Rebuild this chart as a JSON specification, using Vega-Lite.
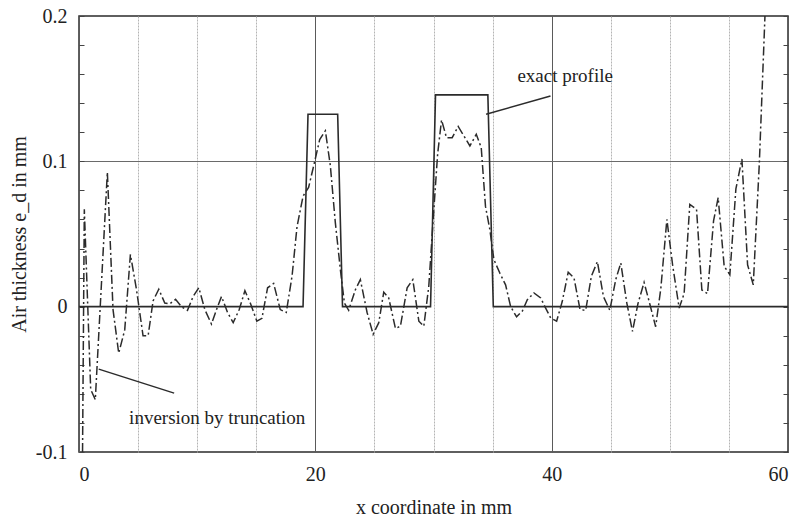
{
  "$schema": "https://vega.github.io/schema/vega-lite/v6.json",
  "width": 709,
  "height": 436,
  "autosize": {"type": "none"},
  "padding": {"left": 79, "top": 16, "right": 22, "bottom": 65},
  "background": "white",
  "config": {
    "view": {"stroke": "#2b2b2b", "strokeWidth": 1.5},
    "axis": {
      "labelFont": "Liberation Serif",
      "titleFont": "Liberation Serif",
      "labelFontSize": 20,
      "titleFontSize": 20,
      "labelColor": "#222222",
      "titleColor": "#222222",
      "titleFontWeight": "normal",
      "domain": false
    },
    "text": {"font": "Liberation Serif", "fontSize": 19, "color": "#222222"}
  },
  "datasets": {
    "profile": [
      {"x": 0, "e": 0},
      {"x": 18.96, "e": 0},
      {"x": 19.38, "e": 0.1324},
      {"x": 21.89, "e": 0.1324},
      {"x": 22.3, "e": 0},
      {"x": 29.75, "e": 0},
      {"x": 30.17, "e": 0.1457},
      {"x": 34.6, "e": 0.1457},
      {"x": 35.06, "e": 0},
      {"x": 60, "e": 0}
    ],
    "inversion": [
      {"x": 0.3, "e": -0.1},
      {"x": 0.45, "e": 0.067},
      {"x": 0.99, "e": -0.057},
      {"x": 1.38, "e": -0.064},
      {"x": 2.4, "e": 0.0926},
      {"x": 2.88, "e": -0.002},
      {"x": 3.36, "e": -0.032},
      {"x": 3.87, "e": -0.016},
      {"x": 4.35, "e": 0.036},
      {"x": 4.86, "e": 0.012},
      {"x": 5.42, "e": -0.02},
      {"x": 5.85, "e": -0.02},
      {"x": 6.27, "e": 0.004},
      {"x": 6.75, "e": 0.012},
      {"x": 7.26, "e": 0.0025},
      {"x": 7.68, "e": 0.002},
      {"x": 8.17, "e": 0.005},
      {"x": 8.67, "e": 0.0},
      {"x": 9.18, "e": -0.0025},
      {"x": 9.66, "e": 0.007},
      {"x": 10.14, "e": 0.013},
      {"x": 10.65, "e": -0.002},
      {"x": 11.21, "e": -0.012},
      {"x": 11.64, "e": -0.002},
      {"x": 12.06, "e": 0.007},
      {"x": 12.57, "e": -0.004},
      {"x": 13.05, "e": -0.011},
      {"x": 13.56, "e": -0.002},
      {"x": 14.04, "e": 0.011},
      {"x": 14.52, "e": 0.002},
      {"x": 15.05, "e": -0.01},
      {"x": 15.48, "e": -0.008},
      {"x": 15.96, "e": 0.013},
      {"x": 16.47, "e": 0.016},
      {"x": 17.03, "e": -0.002},
      {"x": 17.54, "e": -0.004},
      {"x": 18.03, "e": 0.021},
      {"x": 18.45, "e": 0.055},
      {"x": 18.96, "e": 0.076},
      {"x": 19.43, "e": 0.082},
      {"x": 19.92, "e": 0.099},
      {"x": 20.37, "e": 0.115},
      {"x": 20.85, "e": 0.121},
      {"x": 21.27, "e": 0.097},
      {"x": 21.69, "e": 0.058},
      {"x": 22.12, "e": 0.0255},
      {"x": 22.46, "e": 0.0025},
      {"x": 22.82, "e": -0.0025},
      {"x": 23.39, "e": 0.0117},
      {"x": 23.81, "e": 0.0186},
      {"x": 24.38, "e": -0.004},
      {"x": 24.89, "e": -0.019},
      {"x": 25.37, "e": -0.011},
      {"x": 25.79, "e": 0.01},
      {"x": 26.21, "e": 0.006},
      {"x": 26.78, "e": -0.015},
      {"x": 27.2, "e": -0.0135},
      {"x": 27.77, "e": 0.013},
      {"x": 28.25, "e": 0.0186},
      {"x": 28.76, "e": -0.01},
      {"x": 29.18, "e": -0.0135},
      {"x": 29.6, "e": 0.014},
      {"x": 30.03, "e": 0.067},
      {"x": 30.35, "e": 0.105},
      {"x": 30.68, "e": 0.1285},
      {"x": 31.1, "e": 0.1163},
      {"x": 31.58, "e": 0.1163},
      {"x": 32.09, "e": 0.124},
      {"x": 32.57, "e": 0.1175},
      {"x": 33.08, "e": 0.1106},
      {"x": 33.62, "e": 0.1186},
      {"x": 34.04, "e": 0.1094},
      {"x": 34.4, "e": 0.069},
      {"x": 34.77, "e": 0.053},
      {"x": 35.11, "e": 0.0324},
      {"x": 35.62, "e": 0.023},
      {"x": 36.1, "e": 0.015},
      {"x": 36.53, "e": 0.0},
      {"x": 37.03, "e": -0.007},
      {"x": 37.52, "e": -0.003},
      {"x": 37.94, "e": 0.0048},
      {"x": 38.5, "e": 0.0094},
      {"x": 39.07, "e": 0.006},
      {"x": 39.49, "e": -0.001},
      {"x": 39.92, "e": -0.0078},
      {"x": 40.42, "e": -0.01},
      {"x": 40.9, "e": 0.0037},
      {"x": 41.4, "e": 0.0237},
      {"x": 41.89, "e": 0.0198},
      {"x": 42.4, "e": -0.002},
      {"x": 42.88, "e": -0.0025},
      {"x": 43.36, "e": 0.021},
      {"x": 43.87, "e": 0.031},
      {"x": 44.38, "e": 0.007},
      {"x": 44.92, "e": -0.0025},
      {"x": 45.42, "e": 0.0186},
      {"x": 45.85, "e": 0.03},
      {"x": 46.36, "e": 0.0025},
      {"x": 46.84, "e": -0.017},
      {"x": 47.3, "e": 0.002},
      {"x": 47.82, "e": 0.0167},
      {"x": 48.3, "e": 0.002},
      {"x": 48.8, "e": -0.0138},
      {"x": 49.24, "e": 0.0127},
      {"x": 49.75, "e": 0.06},
      {"x": 50.23, "e": 0.029},
      {"x": 50.79, "e": -0.001},
      {"x": 51.21, "e": 0.009},
      {"x": 51.69, "e": 0.0704},
      {"x": 52.26, "e": 0.067},
      {"x": 52.71, "e": 0.0115},
      {"x": 53.19, "e": 0.009},
      {"x": 53.7, "e": 0.059},
      {"x": 54.09, "e": 0.075},
      {"x": 54.6, "e": 0.0277},
      {"x": 55.08, "e": 0.022},
      {"x": 55.59, "e": 0.081},
      {"x": 56.1, "e": 0.1016},
      {"x": 56.58, "e": 0.0288},
      {"x": 57.06, "e": 0.015},
      {"x": 57.57, "e": 0.098},
      {"x": 58.05, "e": 0.2}
    ],
    "leaders": [
      {"x": 34.45, "e": 0.1324, "x2": 39.9, "e2": 0.145},
      {"x": 1.67, "e": -0.043, "x2": 8.05, "e2": -0.0595}
    ],
    "notes": [
      {"x": 37.1, "e": 0.1545, "label": "exact profile"},
      {"x": 4.24, "e": -0.0807, "label": "inversion by truncation"}
    ]
  },
  "layer": [
    {
      "data": {"name": "profile"},
      "mark": {"type": "line", "color": "#2b2b2b", "strokeWidth": 1.6, "clip": true},
      "encoding": {
        "x": {
          "field": "x",
          "type": "quantitative",
          "scale": {"domain": [0, 60], "nice": false, "zero": false},
          "axis": {
            "values": [0, 5, 10, 15, 20, 25, 30, 35, 40, 45, 50, 55, 60],
            "labelExpr": "datum.value % 20 === 0 ? datum.label : ''",
            "ticks": false,
            "grid": true,
            "gridColor": {"condition": {"test": "datum.value % 20 === 0", "value": "#5a5a5a"}, "value": "#b4b4b4"},
            "gridDash": {"condition": {"test": "datum.value % 20 === 0", "value": []}, "value": [2, 1]},
            "gridWidth": 1,
            "labelPadding": 12,
            "title": "x coordinate in mm",
            "titleY": 55,
            "titleBaseline": "middle"
          }
        },
        "y": {
          "field": "e",
          "type": "quantitative",
          "scale": {"domain": [-0.1, 0.2], "nice": false, "zero": false},
          "axis": {
            "orient": "left",
            "values": [-0.1, -0.08, -0.06, -0.04, -0.02, 0, 0.02, 0.04, 0.06, 0.08, 0.1, 0.12, 0.14, 0.16, 0.18, 0.2],
            "labelExpr": "abs(datum.value - 0.2) < 1e-6 ? '0.2' : abs(datum.value - 0.1) < 1e-6 ? '0.1' : abs(datum.value) < 1e-6 ? '0' : abs(datum.value + 0.1) < 1e-6 ? '-0.1' : ''",
            "ticks": true,
            "tickSize": -5,
            "tickColor": "#444444",
            "labelPadding": 17,
            "grid": true,
            "gridColor": "#6a6a6a",
            "gridOpacity": {"condition": {"test": "abs(datum.value - 0.1) < 1e-6", "value": 1}, "value": 0},
            "title": "Air thickness e_d in mm",
            "titleX": -60,
            "titleBaseline": "middle"
          }
        }
      }
    },
    {
      "data": {"name": "inversion"},
      "mark": {"type": "line", "color": "#2b2b2b", "strokeWidth": 1.5, "strokeDash": [9, 3, 2, 3], "clip": true},
      "encoding": {
        "x": {"field": "x", "type": "quantitative"},
        "y": {
          "field": "e",
          "type": "quantitative",
          "axis": {
            "orient": "right",
            "values": [-0.1, -0.08, -0.06, -0.04, -0.02, 0, 0.02, 0.04, 0.06, 0.08, 0.1, 0.12, 0.14, 0.16, 0.18, 0.2],
            "labels": false,
            "ticks": true,
            "tickSize": -5,
            "tickColor": "#444444",
            "grid": false,
            "title": null
          }
        }
      }
    },
    {
      "data": {"name": "leaders"},
      "mark": {"type": "rule", "color": "#2b2b2b", "strokeWidth": 1.5},
      "encoding": {
        "x": {"field": "x", "type": "quantitative"},
        "x2": {"field": "x2"},
        "y": {"field": "e", "type": "quantitative", "axis": null},
        "y2": {"field": "e2"}
      }
    },
    {
      "data": {"name": "notes"},
      "mark": {"type": "text", "align": "left", "baseline": "alphabetic"},
      "encoding": {
        "x": {"field": "x", "type": "quantitative"},
        "y": {"field": "e", "type": "quantitative", "axis": null},
        "text": {"field": "label"}
      }
    }
  ],
  "resolve": {"axis": {"y": "independent"}}
}
